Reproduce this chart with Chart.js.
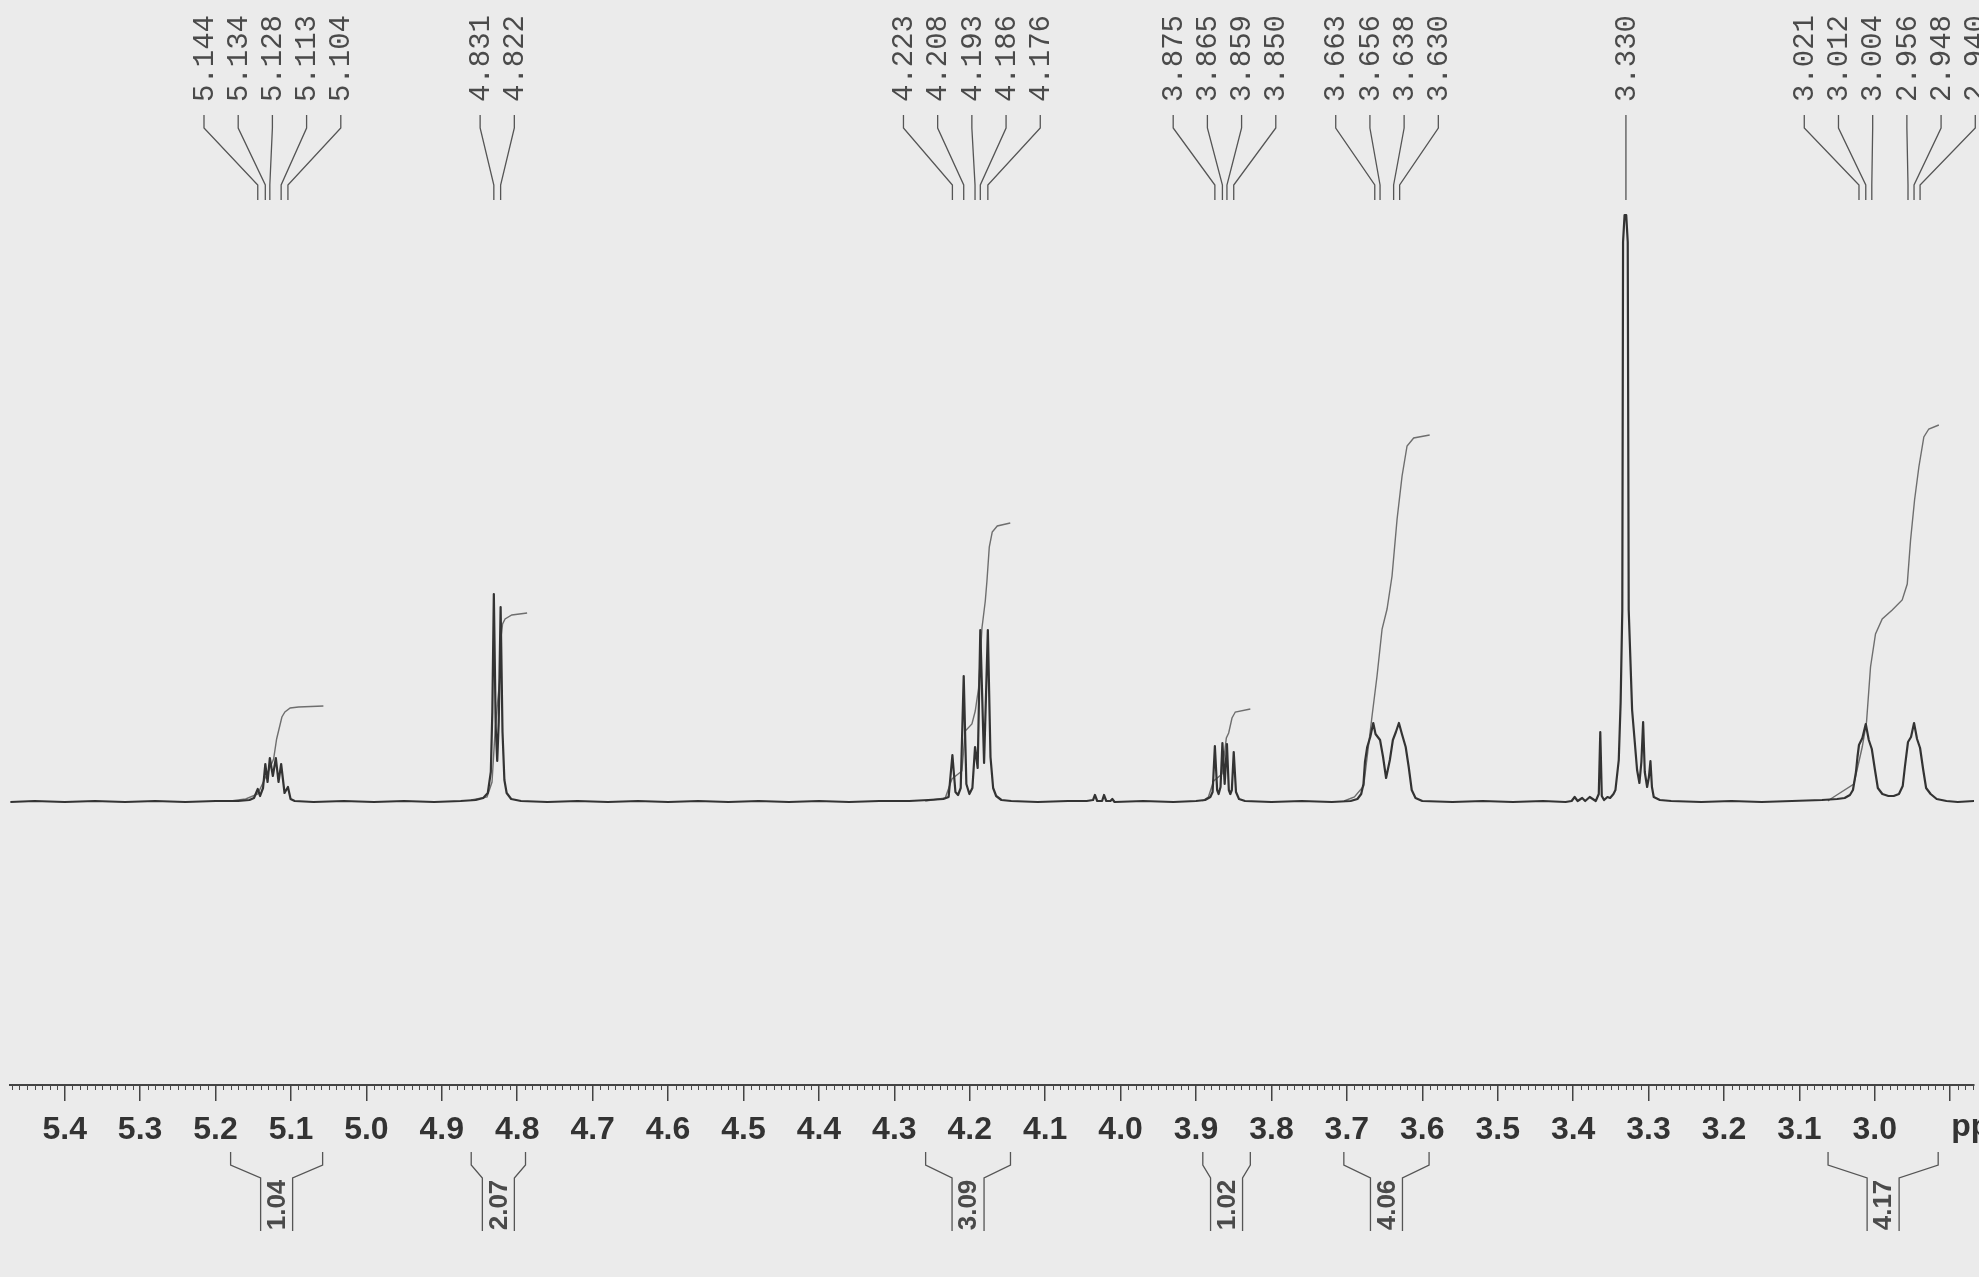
<!DOCTYPE html>
<html>
<head>
<meta charset="utf-8">
<script src="https://cdn.jsdelivr.net/npm/chart.js@4.4.1/dist/chart.umd.min.js"></script>
<style>
    html, body { margin: 0; padding: 0; background: #ebebeb; overflow: hidden; }
    #wrap { width: 1979px; height: 1277px; }
</style>
</head>
<body>
<div id="wrap"><canvas id="nmr" width="1979" height="1277"></canvas></div>
<script>
// ---- spectrum trace (ppm / relative intensity) ----
var specPpm = [
    5.472, 5.44, 5.40, 5.36, 5.32, 5.28, 5.24, 5.20, 5.17, 5.155, 5.149,
    5.144, 5.141, 5.137, 5.134, 5.131, 5.128, 5.124, 5.120, 5.1165, 5.113, 5.1085, 5.104, 5.1005, 5.095,
    5.07, 5.03, 4.99, 4.95, 4.91, 4.875, 4.855, 4.845, 4.839, 4.835, 4.833, 4.831, 4.8285, 4.8265, 4.8245, 4.822, 4.8195, 4.817, 4.814, 4.808, 4.795,
    4.76, 4.72, 4.68, 4.64, 4.60, 4.56, 4.52, 4.48, 4.44, 4.40, 4.36, 4.32, 4.28, 4.255, 4.235,
    4.228, 4.223, 4.219, 4.2155, 4.212, 4.208, 4.2045, 4.2005, 4.1965, 4.193, 4.1895, 4.186, 4.181, 4.176, 4.1725, 4.169, 4.165, 4.158, 4.145,
    4.11, 4.07, 4.045, 4.0365, 4.034, 4.031, 4.0245, 4.022, 4.019, 4.0135, 4.011, 4.008,
    3.97, 3.93, 3.90, 3.888, 3.881, 3.878, 3.875, 3.872, 3.870, 3.8675, 3.865, 3.862, 3.859, 3.8565, 3.8545, 3.8525, 3.850, 3.847, 3.843, 3.835,
    3.80, 3.76, 3.72, 3.695, 3.686, 3.681, 3.678, 3.676, 3.673, 3.669, 3.665, 3.662, 3.656, 3.652, 3.648, 3.643, 3.639, 3.635, 3.631, 3.627, 3.622, 3.618, 3.614, 3.609, 3.600,
    3.56, 3.52, 3.48, 3.44, 3.41, 3.402, 3.398, 3.394, 3.388, 3.384, 3.378, 3.370, 3.366, 3.364, 3.362, 3.359, 3.3545, 3.351, 3.3465, 3.3439, 3.3395, 3.337, 3.3348,
    3.3338, 3.3318, 3.3296, 3.3276, 3.3263, 3.3218, 3.3152, 3.3121, 3.3095, 3.3072, 3.305, 3.3019, 3.2995, 3.2975, 3.2955, 3.2931, 3.285, 3.27,
    3.23, 3.19, 3.15, 3.11, 3.07, 3.05, 3.040, 3.033, 3.029, 3.025, 3.023, 3.021, 3.0165, 3.012, 3.008, 3.004, 3.000, 2.996, 2.990, 2.982, 2.975,
    2.968, 2.963, 2.960, 2.956, 2.952, 2.948, 2.944, 2.940, 2.936, 2.932, 2.926, 2.918, 2.905, 2.89, 2.868
];
var specInt = [
    0, 1, 0, 1, 0, 1, 0, 1, 1, 2, 4,
    13, 6, 14, 38, 20, 44, 26, 44, 20, 38, 9, 15, 3, 1,
    0, 1, 0, 1, 0, 1, 2, 4, 9, 30, 90, 208, 75, 41, 80, 195, 70, 22, 9, 3, 1,
    0, 1, 0, 1, 0, 1, 0, 1, 0, 1, 0, 1, 1, 2, 3,
    5, 47, 10, 7, 14, 126, 18, 8, 14, 55, 34, 172, 39, 172, 45, 14, 6, 2, 1,
    0, 1, 1, 2, 7, 1, 1, 7, 1, 1, 3, 0,
    1, 0, 1, 2, 5, 10, 56, 12, 8, 15, 59, 18, 58, 12, 8, 12, 50, 10, 3, 1,
    0, 1, 0, 1, 3, 8, 18, 40, 55, 65, 79, 68, 62, 45, 24, 42, 62, 70, 79, 68, 55, 35, 12, 4, 1,
    0, 1, 0, 1, 0, 1, 5, 1, 4, 1, 5, 1, 8, 70, 6, 2, 5, 4, 8, 12, 42, 100, 192,
    560, 587, 587, 560, 192, 92, 32, 19, 40, 80, 30, 15, 25, 41, 15, 5, 2, 1,
    0, 1, 0, 1, 2, 3, 4, 7, 12, 30, 45, 57, 64, 78, 62, 53, 33, 14, 8, 6, 6,
    8, 16, 36, 60, 65, 79, 63, 54, 33, 14, 8, 3, 1, 0, 1
];

// ---- integral curves ----
var int1Ppm = [5.180, 5.160, 5.144, 5.128, 5.123, 5.119, 5.112, 5.108, 5.101, 5.090, 5.057];
var int1Val = [1, 3, 8, 34, 43, 63, 85, 90, 94, 95, 96];
var int2Ppm = [4.861, 4.840, 4.8334, 4.8294, 4.826, 4.8234, 4.8214, 4.8194, 4.8161, 4.8072, 4.7869];
var int2Val = [2, 5, 20, 70, 100, 120, 165, 178, 183, 187, 189];
var int3Ppm = [4.259, 4.2325, 4.2236, 4.2104, 4.206, 4.1971, 4.1927, 4.1883, 4.1838, 4.1794, 4.1772, 4.1741, 4.1702, 4.1635, 4.1463];
var int3Val = [1, 4, 23, 31, 71, 78, 91, 114, 174, 201, 221, 255, 270, 276, 279];
var int4Ppm = [3.8916, 3.8836, 3.8766, 3.8655, 3.8598, 3.8567, 3.8523, 3.8479, 3.8280];
var int4Val = [1, 5, 21, 28, 64, 69, 84, 90, 93];
var int5Ppm = [3.7036, 3.690, 3.6777, 3.6666, 3.660, 3.6533, 3.6467, 3.6401, 3.6334, 3.6268, 3.6202, 3.6114, 3.5902];
var int5Val = [1, 5, 16, 86, 126, 173, 193, 226, 283, 326, 356, 364, 367];
var int6Ppm = [3.0623, 3.0587, 3.0278, 3.0167, 3.0110, 3.0057, 2.9991, 2.9902, 2.9769, 2.9637, 2.9570, 2.9526, 2.9473, 2.9416, 2.9350, 2.9284, 2.9151];
var int6Val = [1, 3, 18, 55, 80, 135, 168, 183, 192, 202, 218, 262, 302, 335, 365, 373, 377];

// integral brackets under the axis
var integStart = [5.180, 4.861, 4.2585, 3.891, 3.704, 3.062];
var integEnd = [5.058, 4.789, 4.146, 3.828, 3.591, 2.916];
var integLabel = ['1.04', '2.07', '3.09', '1.02', '4.06', '4.17'];

// picked peaks, one list per multiplet
var peaks51 = [5.144, 5.134, 5.128, 5.113, 5.104];
var peaks48 = [4.831, 4.822];
var peaks42 = [4.223, 4.208, 4.193, 4.186, 4.176];
var peaks386 = [3.875, 3.865, 3.859, 3.850];
var peaks365 = [3.663, 3.656, 3.638, 3.630];
var peaks333 = [3.330];
var peaks30 = [3.021, 3.012, 3.004, 2.956, 2.948, 2.940];

var PPM_MIN = 2.8685;
var PPM_MAX = 5.4725;
var MAJOR_STEP = 0.1;
var LABEL_STEP = 34.2;
var INK = '#333333';

function toPoints(xs, ys) {
    return xs.map(function(x, i) { return {x: x, y: ys[i]}; });
}

function integralSet(xs, ys) {
    return {data: toPoints(xs, ys), borderColor: '#6e6e6e', borderWidth: 1.4, pointRadius: 0, tension: 0};
}

var nmrDecor = {
    id: 'nmrDecor',
    beforeDraw: function(chart) {
        var ctx = chart.ctx;
        ctx.save();
        ctx.fillStyle = '#ebebeb';
        ctx.fillRect(0, 0, chart.width, chart.height);
        ctx.restore();
    },
    afterDraw: function(chart) {
        var ctx = chart.ctx;
        var xs = chart.scales.x;
        ctx.save();

        // minor ticks every 0.01 ppm
        ctx.strokeStyle = '#4a4a4a';
        ctx.lineWidth = 1;
        for (var i = Math.ceil(PPM_MIN * 100); i <= Math.floor(PPM_MAX * 100); i++) {
            if (i % 10 === 0) {
                continue;
            }
            var tx = Math.round(xs.getPixelForValue(i / 100)) + 0.5;
            ctx.beginPath();
            ctx.moveTo(tx, xs.top);
            ctx.lineTo(tx, xs.top + 5);
            ctx.stroke();
        }

        // unit label, cut by the right edge as on the print
        ctx.fillStyle = '#333';
        ctx.font = 'bold 32px "Liberation Sans", Arial, sans-serif';
        ctx.textAlign = 'left';
        ctx.textBaseline = 'top';
        ctx.fillText('ppm', xs.getPixelForValue(2.9) + 1, xs.top + 26);

        // peak labels with leader lines
        ctx.strokeStyle = '#555';
        ctx.lineWidth = 1.3;
        ctx.fillStyle = '#4a4a4a';
        ctx.font = '29px "Liberation Mono", "DejaVu Sans Mono", monospace';
        ctx.textBaseline = 'middle';
        [peaks51, peaks48, peaks42, peaks386, peaks365, peaks333, peaks30].forEach(function(group) {
            var pxs = group.map(function(p) { return xs.getPixelForValue(p); });
            var mean = pxs.reduce(function(a, b) { return a + b; }, 0) / pxs.length;
            pxs.forEach(function(px, k) {
                var lx = mean + (k - (group.length - 1) / 2) * LABEL_STEP;
                ctx.beginPath();
                ctx.moveTo(lx, 115);
                ctx.lineTo(lx, 128);
                ctx.lineTo(px, 185);
                ctx.lineTo(px, 200);
                ctx.stroke();
                ctx.save();
                ctx.translate(lx + 1, 102);
                ctx.rotate(-Math.PI / 2);
                ctx.fillText(group[k].toFixed(3), 0, 0);
                ctx.restore();
            });
        });

        // integral brackets and values
        ctx.font = 'bold 26px "Liberation Sans", Arial, sans-serif';
        ctx.textAlign = 'center';
        integLabel.forEach(function(txt, k) {
            var l = xs.getPixelForValue(integStart[k]);
            var r = xs.getPixelForValue(integEnd[k]);
            var c = (l + r) / 2;
            ctx.beginPath();
            ctx.moveTo(l, 1152);
            ctx.lineTo(l, 1165);
            ctx.lineTo(c - 16, 1178);
            ctx.lineTo(c - 16, 1231);
            ctx.moveTo(r, 1152);
            ctx.lineTo(r, 1165);
            ctx.lineTo(c + 16, 1178);
            ctx.lineTo(c + 16, 1231);
            ctx.stroke();
            ctx.save();
            ctx.translate(c + 1, 1205);
            ctx.rotate(-Math.PI / 2);
            ctx.fillText(txt, 0, 0);
            ctx.restore();
        });

        ctx.restore();
    }
};

new Chart(document.getElementById('nmr').getContext('2d'), {
    type: 'line',
    data: {
        datasets: [
            {data: toPoints(specPpm, specInt), borderColor: INK, borderWidth: 2.2, pointRadius: 0, tension: 0, borderJoinStyle: 'round'},
            integralSet(int1Ppm, int1Val),
            integralSet(int2Ppm, int2Val),
            integralSet(int3Ppm, int3Val),
            integralSet(int4Ppm, int4Val),
            integralSet(int5Ppm, int5Val),
            integralSet(int6Ppm, int6Val)
        ]
    },
    options: {
        responsive: false,
        animation: false,
        devicePixelRatio: 1,
        layout: {padding: {left: 10, right: 5, top: 0, bottom: 0}},
        plugins: {legend: {display: false}, tooltip: {enabled: false}},
        scales: {
            x: {
                type: 'linear',
                reverse: true,
                min: PPM_MIN,
                max: PPM_MAX,
                afterFit: function(scale) {
                    scale.height = 192;
                },
                grid: {display: true, drawOnChartArea: false, drawTicks: true, tickLength: 16, color: '#444', lineWidth: 1.5},
                border: {display: true, color: '#444', width: 2},
                ticks: {
                    stepSize: MAJOR_STEP,
                    includeBounds: false,
                    autoSkip: false,
                    maxRotation: 0,
                    padding: 10,
                    color: '#333',
                    font: {family: '"Liberation Sans", Arial, sans-serif', size: 32, weight: 'bold'},
                    callback: function(v) {
                        return v < 2.95 ? '' : Number(v).toFixed(1);
                    }
                }
            },
            y: {display: false, min: -283, max: 802}
        }
    },
    plugins: [nmrDecor]
});
</script>
</body>
</html>
